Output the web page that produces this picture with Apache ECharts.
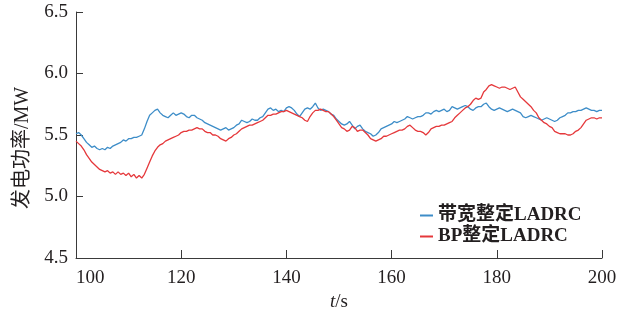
<!DOCTYPE html>
<html>
<head>
<meta charset="utf-8">
<script src="https://cdn.jsdelivr.net/npm/echarts@6/dist/echarts.min.js"></script>
<style>
html,body{margin:0;padding:0;background:#fff;}
#chart{width:624px;height:320px;}
</style>
</head>
<body>
<div id="chart"></div>
<script>
// time axis: samples every 0.5 s from 100 s to 200 s
const tStart = 100;
const tStep = 0.5;
const xTicks = [100, 120, 140, 160, 180, 200];
const yTicks = [4.5, 5.0, 5.5, 6.0, 6.5];
const seriesNames = ['带宽整定LADRC', 'BP整定LADRC'];

// 带宽整定LADRC (blue)
const bandwidthLADRC = [
  5.51,5.52,5.50,5.47,5.44,5.42,5.40,5.41,5.39,5.38,
  5.39,5.38,5.40,5.39,5.41,5.42,5.43,5.44,5.46,5.45,
  5.47,5.47,5.48,5.48,5.49,5.50,5.55,5.61,5.66,5.68,
  5.70,5.71,5.68,5.66,5.65,5.64,5.66,5.68,5.66,5.67,
  5.68,5.67,5.65,5.64,5.66,5.66,5.64,5.63,5.62,5.60,
  5.59,5.58,5.57,5.56,5.55,5.54,5.55,5.56,5.54,5.55,
  5.56,5.58,5.59,5.62,5.61,5.60,5.61,5.63,5.62,5.62,
  5.64,5.65,5.68,5.71,5.72,5.70,5.71,5.69,5.70,5.69,
  5.72,5.73,5.72,5.70,5.67,5.65,5.68,5.71,5.72,5.71,
  5.73,5.76,5.72,5.70,5.71,5.70,5.69,5.67,5.66,5.63,
  5.61,5.59,5.58,5.59,5.61,5.58,5.55,5.57,5.58,5.55,
  5.53,5.52,5.51,5.49,5.50,5.52,5.55,5.56,5.57,5.58,
  5.59,5.61,5.60,5.61,5.62,5.63,5.65,5.64,5.63,5.64,
  5.65,5.65,5.66,5.68,5.68,5.67,5.69,5.70,5.69,5.70,
  5.71,5.69,5.70,5.73,5.72,5.71,5.72,5.73,5.74,5.73,
  5.71,5.70,5.72,5.73,5.73,5.75,5.76,5.73,5.71,5.70,
  5.71,5.72,5.71,5.70,5.69,5.70,5.71,5.70,5.69,5.68,
  5.65,5.64,5.65,5.66,5.65,5.64,5.63,5.62,5.63,5.64,
  5.63,5.62,5.61,5.62,5.64,5.65,5.66,5.68,5.68,5.69,
  5.69,5.70,5.70,5.71,5.72,5.71,5.70,5.70,5.69,5.70,
  5.70
];

// BP整定LADRC (red)
const bpLADRC = [
  5.45,5.43,5.41,5.38,5.34,5.31,5.28,5.26,5.24,5.22,
  5.21,5.20,5.21,5.19,5.20,5.18,5.20,5.18,5.19,5.17,
  5.19,5.16,5.18,5.15,5.17,5.15,5.18,5.23,5.28,5.33,
  5.37,5.40,5.42,5.43,5.45,5.46,5.47,5.48,5.49,5.50,
  5.52,5.53,5.53,5.54,5.54,5.55,5.56,5.55,5.55,5.53,
  5.52,5.52,5.50,5.50,5.49,5.47,5.46,5.45,5.47,5.48,
  5.50,5.51,5.53,5.55,5.56,5.57,5.58,5.58,5.59,5.60,
  5.61,5.62,5.64,5.66,5.66,5.67,5.67,5.68,5.69,5.69,
  5.70,5.69,5.68,5.67,5.66,5.65,5.64,5.62,5.61,5.65,
  5.68,5.70,5.70,5.71,5.70,5.69,5.69,5.67,5.65,5.62,
  5.59,5.56,5.55,5.53,5.54,5.57,5.56,5.53,5.54,5.54,
  5.52,5.50,5.47,5.46,5.45,5.46,5.47,5.49,5.49,5.50,
  5.51,5.52,5.53,5.54,5.54,5.55,5.57,5.58,5.56,5.54,
  5.53,5.53,5.52,5.50,5.52,5.55,5.56,5.57,5.57,5.58,
  5.58,5.59,5.60,5.61,5.64,5.66,5.68,5.70,5.72,5.73,
  5.75,5.78,5.80,5.79,5.80,5.85,5.87,5.90,5.91,5.90,
  5.89,5.88,5.89,5.89,5.88,5.87,5.88,5.89,5.85,5.81,
  5.79,5.77,5.75,5.73,5.70,5.68,5.64,5.62,5.60,5.59,
  5.57,5.56,5.53,5.52,5.51,5.51,5.51,5.50,5.50,5.51,
  5.53,5.54,5.56,5.59,5.62,5.63,5.64,5.64,5.63,5.64,
  5.64
];

const toPairs = arr => arr.map((v, i) => [tStart + i * tStep, v]);

const serif = '"Liberation Serif", "DejaVu Serif", "Noto Sans CJK SC", serif';
const textColor = '#231f20';
const axisColor = '#3a3a3a';

const chart = echarts.init(document.getElementById('chart'), null, {renderer: 'canvas'});
chart.setOption({
  animation: false,
  backgroundColor: '#ffffff',
  grid: {left: 76, right: 22, top: 12, bottom: 62, containLabel: false},
  legend: {
    orient: 'vertical',
    left: 415,
    top: 201,
    itemWidth: 13,
    itemHeight: 2,
    itemGap: 2,
    icon: 'rect',
    textStyle: {fontFamily: serif, fontSize: 19, fontWeight: 'bold', color: textColor},
    data: seriesNames
  },
  xAxis: {
    type: 'value',
    min: xTicks[0],
    max: xTicks[xTicks.length - 1],
    interval: xTicks[1] - xTicks[0],
    name: '{i|t}/s',
    nameLocation: 'middle',
    nameGap: 32,
    nameTextStyle: {
      fontFamily: serif, fontSize: 19, color: textColor,
      rich: {i: {fontFamily: serif, fontSize: 19, fontStyle: 'italic', color: textColor}}
    },
    axisLine: {show: true, lineStyle: {color: axisColor, width: 1}},
    axisTick: {show: true, inside: true, length: 8, lineStyle: {color: axisColor}},
    axisLabel: {
      fontFamily: serif, fontSize: 19, color: textColor, margin: 11,
      alignMinLabel: 'left'
    },
    splitLine: {show: false}
  },
  yAxis: {
    type: 'value',
    min: yTicks[0],
    max: yTicks[yTicks.length - 1],
    interval: yTicks[1] - yTicks[0],
    name: '发电功率/MW',
    nameLocation: 'middle',
    nameGap: 43,
    nameRotate: 90,
    nameTextStyle: {fontFamily: serif, fontSize: 20, color: textColor, padding: [0, 26, 0, 0]},
    axisLine: {show: true, lineStyle: {color: axisColor, width: 1}},
    axisTick: {show: true, inside: true, length: 7, lineStyle: {color: axisColor}},
    axisLabel: {
      fontFamily: serif, fontSize: 19, color: textColor, margin: 8,
      formatter: v => v.toFixed(1)
    },
    splitLine: {show: false}
  },
  series: [
    {
      name: seriesNames[0],
      type: 'line',
      data: toPairs(bandwidthLADRC),
      showSymbol: false,
      symbol: 'none',
      lineStyle: {color: '#3d8dc8', width: 1.3},
      itemStyle: {color: '#3d8dc8'},
      z: 2
    },
    {
      name: seriesNames[1],
      type: 'line',
      data: toPairs(bpLADRC),
      showSymbol: false,
      symbol: 'none',
      lineStyle: {color: '#e5383b', width: 1.3},
      itemStyle: {color: '#e5383b'},
      z: 3
    }
  ]
});
</script>
</body>
</html>
